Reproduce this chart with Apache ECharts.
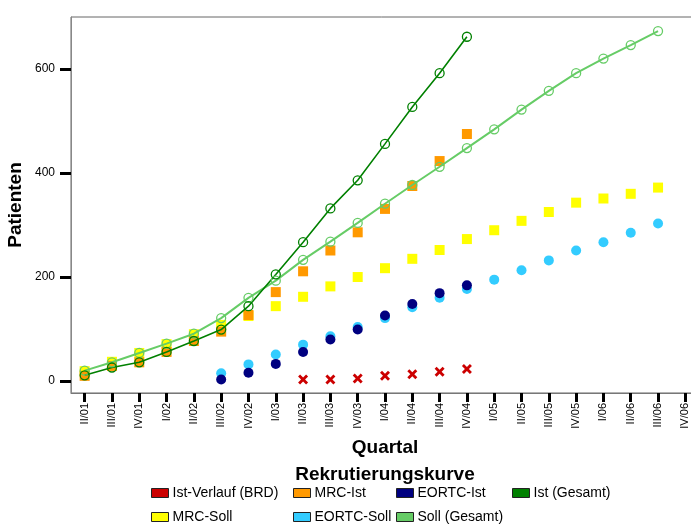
<!DOCTYPE html>
<html>
<head>
<meta charset="utf-8">
<script src="https://cdn.jsdelivr.net/npm/echarts@6/dist/echarts.min.js"></script>
<style>
html,body{margin:0;padding:0;background:#fff;}
#chart{width:691px;height:528px;}
</style>
</head>
<body>
<div id="chart"></div>
<script>
const categories = ['II/01','III/01','IV/01','I/02','II/02','III/02','IV/02','I/03','II/03','III/03','IV/03','I/04','II/04','III/04','IV/04','I/05','II/05','III/05','IV/05','I/06','II/06','III/06','IV/06'];
const yTickValues = [0, 200, 400, 600];

// values, starting at the given category index
const brdIstStart = 8;
const brdIst = [3, 3, 5, 10, 13, 18, 23];
const mrcIstStart = 0;
const mrcIst = [10, 29, 36, 56, 77, 95, 127, 171, 211, 251, 286, 331, 375, 423, 475];
const eortcIstStart = 5;
const eortcIst = [3, 16, 33, 56, 80, 99, 126, 148, 169, 184];
const istGesamtStart = 0;
const istGesamt = [11, 26, 36, 56, 77, 99, 144, 205, 267, 332, 386, 456, 527, 592, 662];
const mrcSollStart = 0;
const mrcSoll = [19, 37, 54, 71, 90, 108, 125, 144, 162, 182, 200, 217, 235, 252, 273, 290, 308, 325, 343, 351, 360, 372];
const eortcSollStart = 5;
const eortcSoll = [15, 32, 51, 70, 86, 104, 121, 142, 160, 177, 195, 213, 232, 251, 267, 285, 303];
const sollGesamtStart = 0;
const sollGesamt = [20, 36, 54, 72, 91, 121, 160, 193, 233, 268, 304, 341, 377, 412, 448, 484, 522, 558, 592, 620, 646, 673];

function place(start, vals) {
  const out = categories.map(() => null);
  vals.forEach((v, i) => { out[start + i] = v; });
  return out;
}

const FONT = '"Liberation Sans", Arial, sans-serif';
const C = {
  brd: '#CC0000', mrcIst: '#FF9900', eortcIst: '#000080', istG: '#008000',
  mrcSoll: '#FFFF00', eortcSoll: '#33CCFF', sollG: '#66CC66'
};
const xMark = 'path://M0,2L2,0L5,3L8,0L10,2L7,5L10,8L8,10L5,7L2,10L0,8L3,5Z';

const chart = echarts.init(document.getElementById('chart'), null, {renderer: 'canvas'});

function legendItem(name, color, left, top) {
  return {
    left: left, top: top, orient: 'horizontal',
    itemWidth: 17, itemHeight: 9, itemGap: 4,
    padding: 0,
    selectedMode: false,
    textStyle: {fontFamily: FONT, fontSize: 14, color: '#000', padding: [0, 0, 0, -1]},
    data: [{name: name, icon: 'rect', itemStyle: {color: color, borderColor: '#222', borderWidth: 1, opacity: 1}}]
  };
}

const option = {
  animation: false,
  backgroundColor: '#fff',
  title: {
    text: 'Rekrutierungskurve',
    left: 380, top: 460, textAlign: 'center',
    textStyle: {fontFamily: FONT, fontSize: 19, fontWeight: 'bold', color: '#000'}
  },
  legend: [
    legendItem('Ist-Verlauf (BRD)', C.brd, 151, 486),
    legendItem('MRC-Ist', C.mrcIst, 293, 486),
    legendItem('EORTC-Ist', C.eortcIst, 396, 486),
    legendItem('Ist (Gesamt)', C.istG, 512, 486),
    legendItem('MRC-Soll', C.mrcSoll, 151, 510),
    legendItem('EORTC-Soll', C.eortcSoll, 293, 510),
    legendItem('Soll (Gesamt)', C.sollG, 396, 510)
  ],
  grid: {
    left: 71, top: 17, width: 628, height: 376,
    show: true, borderColor: '#666', borderWidth: 1,
    containLabel: false, outerBoundsMode: 'none'
  },
  xAxis: {
    type: 'category',
    data: categories,
    boundaryGap: true,
    name: 'Quartal',
    nameLocation: 'middle',
    nameGap: 45,
    nameMoveOverlap: false,
    nameTextStyle: {fontFamily: FONT, fontSize: 19, fontWeight: 'bold', color: '#000', verticalAlign: 'top'},
    axisLine: {show: true, onZero: false, lineStyle: {color: '#777', width: 1}},
    axisTick: {show: true, alignWithLabel: true, length: 9, interval: 0, lineStyle: {color: '#000', width: 3}},
    axisLabel: {rotate: 90, interval: 0, margin: 10, fontFamily: FONT, fontSize: 11, color: '#000'},
    splitLine: {show: false}
  },
  yAxis: {
    type: 'value',
    min: -23, max: 700,
    name: 'Patienten',
    nameLocation: 'middle',
    nameGap: 46,
    nameRotate: 90,
    nameMoveOverlap: false,
    nameTextStyle: {fontFamily: FONT, fontSize: 19, fontWeight: 'bold', color: '#000', verticalAlign: 'bottom'},
    axisLine: {show: true, lineStyle: {color: '#888', width: 1}},
    axisTick: {show: true, customValues: yTickValues, length: 11, lineStyle: {color: '#000', width: 3}},
    axisLabel: {customValues: yTickValues, margin: 16, fontFamily: FONT, fontSize: 12, color: '#000'},
    splitLine: {show: false}
  },
  series: [
    {name: 'MRC-Soll', type: 'scatter', data: place(mrcSollStart, mrcSoll), symbol: 'rect', symbolSize: 10, itemStyle: {color: C.mrcSoll, opacity: 1}},
    {name: 'EORTC-Soll', type: 'scatter', data: place(eortcSollStart, eortcSoll), symbol: 'circle', symbolSize: 10, itemStyle: {color: C.eortcSoll, opacity: 1}},
    {name: 'Ist-Verlauf (BRD)', type: 'scatter', data: place(brdIstStart, brdIst), symbol: xMark, symbolSize: 10, itemStyle: {color: C.brd, opacity: 1}},
    {name: 'MRC-Ist', type: 'scatter', data: place(mrcIstStart, mrcIst), symbol: 'rect', symbolSize: 10, itemStyle: {color: C.mrcIst, opacity: 1}},
    {name: 'EORTC-Ist', type: 'scatter', data: place(eortcIstStart, eortcIst), symbol: 'circle', symbolSize: 10, itemStyle: {color: C.eortcIst, opacity: 1}},
    {name: 'Soll (Gesamt)', type: 'line', data: place(sollGesamtStart, sollGesamt), connectNulls: false,
      symbol: 'circle', symbolSize: 9, showAllSymbol: true,
      lineStyle: {color: C.sollG, width: 2},
      itemStyle: {color: 'rgba(0,0,0,0)', borderColor: C.sollG, borderWidth: 1.3}},
    {name: 'Ist (Gesamt)', type: 'line', data: place(istGesamtStart, istGesamt), connectNulls: false,
      symbol: 'circle', symbolSize: 9, showAllSymbol: true,
      lineStyle: {color: C.istG, width: 1.6},
      itemStyle: {color: 'rgba(0,0,0,0)', borderColor: C.istG, borderWidth: 1.3}}
  ]
};
chart.setOption(option);
</script>
</body>
</html>
